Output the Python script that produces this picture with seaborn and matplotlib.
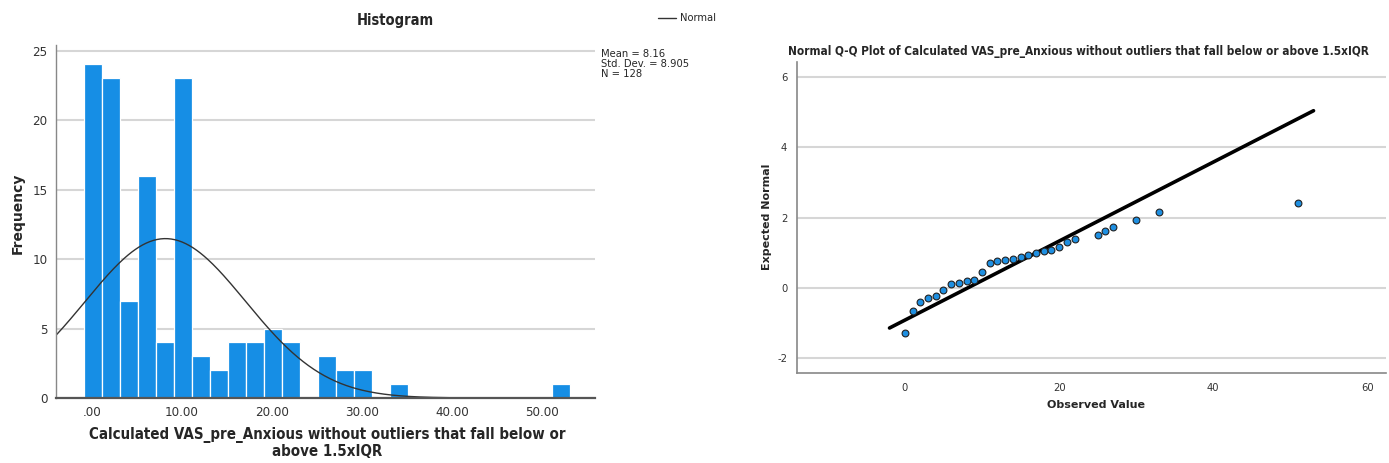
#spss-style histogram + normal q-q plot
import numpy as np
import pandas as pd
import matplotlib
matplotlib.use("Agg")
import matplotlib.pyplot as plt
import seaborn as sns

#histogram data
bin_start = -0.9
bin_width = 2.0
counts = [24, 23, 7, 16, 4, 23, 3, 2, 4, 4, 5, 4, 0, 3, 2, 2, 0, 1,
          0, 0, 0, 0, 0, 0, 0, 0, 1]
mean_val = 8.16
sd_val = 8.905
n_val = 128
hist_ticks = [0, 10, 20, 30, 40, 50]
hist_ticklabels = [".00", "10.00", "20.00", "30.00", "40.00", "50.00"]

#q-q plot data
observed = [0, 1, 2, 3, 4, 5, 6, 7, 8, 9, 10, 11, 12, 13, 14, 15, 16, 17,
            18, 19, 20, 21, 22, 25, 26, 27, 30, 33, 51]
expected = [-1.29, -0.66, -0.41, -0.29, -0.23, -0.05, 0.10, 0.14, 0.19, 0.23,
            0.46, 0.72, 0.76, 0.79, 0.82, 0.87, 0.92, 0.98, 1.05, 1.09, 1.17,
            1.30, 1.40, 1.51, 1.61, 1.72, 1.93, 2.15, 2.42]
line_x = [-2, 53]

sns.set_style("white")
plt.rcParams['font.family'] = ['DejaVu Sans']
plt.rcParams['font.stretch'] = 'condensed'
plt.rcParams['axes.unicode_minus'] = False

W, H = 1389, 463
fig = plt.figure(figsize=(W / 100, H / 100), dpi=100)

def box(l, t, r, b):
    return [l / W, (H - b) / H, (r - l) / W, (b - t) / H]

def put(x, y, s, **kw):
    #place text by pixel position (from top-left)
    return fig.text(x / W, 1 - y / H, s, **kw)

bar_col = "#168EE5"
grid_col = "#d6d6d6"

#---- histogram ----
ax1 = fig.add_axes(box(56, 45, 595, 398))
edges = [bin_start + bin_width * i for i in range(len(counts) + 1)]
centers = [e + bin_width / 2 for e in edges[:-1]]
hdf = pd.DataFrame({"val": centers, "cnt": counts})
sns.histplot(data=hdf, x="val", weights="cnt", bins=edges, ax=ax1,
             color=bar_col, alpha=1, edgecolor="white", linewidth=0.9)
ax1.set_xlim(-4.0, 55.9)
ax1.set_ylim(0, 25.4)
xs = np.linspace(-4.0, 55.9, 300)
ys = n_val * bin_width * np.exp(-0.5 * ((xs - mean_val) / sd_val) ** 2) / (sd_val * np.sqrt(2 * np.pi))
sns.lineplot(x=xs, y=ys, ax=ax1, color="#333333", linewidth=1.0, legend=False)
ax1.set_yticks([0, 5, 10, 15, 20, 25])
ax1.yaxis.grid(True, color=grid_col, linewidth=1.5)
ax1.set_axisbelow(True)
ax1.set_xticks(hist_ticks)
ax1.set_xticklabels(hist_ticklabels)
ax1.tick_params(axis="both", labelsize=9.5, colors="#333333", length=0, pad=6)
for s in ["top", "right"]:
    ax1.spines[s].set_visible(False)
ax1.spines["left"].set_color("#888888")
ax1.spines["left"].set_linewidth(1)
ax1.spines["bottom"].set_color("#555555")
ax1.spines["bottom"].set_linewidth(1.6)
ax1.set_xlabel("")
ax1.set_ylabel("")
put(395, 20, "Histogram", ha="center", va="center", fontsize=10.5, fontweight="bold")
put(327, 435, "Calculated VAS_pre_Anxious without outliers that fall below or",
    ha="center", va="center", fontsize=10.8, fontweight="bold")
put(327, 451, "above 1.5xIQR", ha="center", va="center", fontsize=10.8, fontweight="bold")
put(18, 213, "Frequency", rotation=90, ha="center", va="center",
    fontsize=10, fontweight="bold", stretch="normal")
put(601, 54, "Mean = %.2f" % mean_val, ha="left", va="center", fontsize=8)
put(601, 64, "Std. Dev. = %.3f" % sd_val, ha="left", va="center", fontsize=8)
put(601, 74, "N = %d" % n_val, ha="left", va="center", fontsize=8)
fig.lines.append(plt.Line2D([658 / W, 676 / W], [1 - 18 / H, 1 - 18 / H],
                            transform=fig.transFigure, color="#333333", linewidth=1.0))
put(680, 18, "Normal", ha="left", va="center", fontsize=8)

#---- q-q plot ----
ax2 = fig.add_axes(box(797, 62, 1386, 373))
sns.lineplot(x=line_x, y=[(v - mean_val) / sd_val for v in line_x], ax=ax2,
             color="black", linewidth=2.6)
sns.scatterplot(x=observed, y=expected, ax=ax2, color="#1E8FE1",
                edgecolor="#222222", linewidth=0.8, s=24, zorder=3)
ax2.set_xlim(-14, 62.4)
ax2.set_ylim(-2.42, 6.42)
ax2.set_xticks([0, 20, 40, 60])
ax2.set_yticks([-2, 0, 2, 4, 6])
ax2.yaxis.grid(True, color=grid_col, linewidth=1.5)
ax2.set_axisbelow(True)
ax2.tick_params(axis="both", labelsize=8, colors="#333333", length=0, pad=7)
for s in ["top", "right"]:
    ax2.spines[s].set_visible(False)
for s in ["left", "bottom"]:
    ax2.spines[s].set_color("#888888")
    ax2.spines[s].set_linewidth(1.2)
put(1078, 52,
    "Normal Q-Q Plot of Calculated VAS_pre_Anxious without outliers that fall below or above 1.5xIQR",
    ha="center", va="center", fontsize=8.5, fontweight="bold")
put(767, 217, "Expected Normal", rotation=90, ha="center", va="center",
    fontsize=8, fontweight="bold", stretch="normal")
put(1096, 405, "Observed Value", ha="center", va="center",
    fontsize=8, fontweight="bold", stretch="normal")

fig.savefig("out.png", dpi=100)
